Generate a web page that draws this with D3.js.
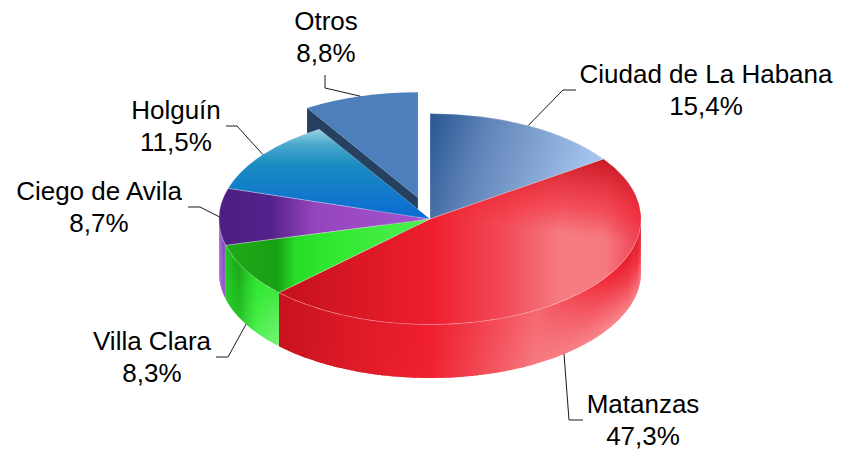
<!DOCTYPE html>
<html>
<head>
<meta charset="utf-8">
<script src="https://cdn.jsdelivr.net/npm/d3@7"></script>
<style>
  body { margin: 0; background: #fff; }
  svg { display: block; }
  text { font-family: "Liberation Sans", Arial, sans-serif; font-size: 26px; fill: #000; }
</style>
</head>
<body>
<svg id="chart" width="843" height="453"></svg>
<script>
// data
const categories = ['Ciudad de La Habana', 'Matanzas', 'Villa Clara', 'Ciego de Avila', 'Holguín', 'Otros'];
const values = [15.4, 47.3, 8.3, 8.7, 11.5, 8.8];
const percentLabels = ['15,4%', '47,3%', '8,3%', '8,7%', '11,5%', '8,8%'];

// layout
const cx = 430, cy = 219, rx = 211, ry = 105.5, depth = 53.5;
const explodeIndex = 5, explode = 0.21;
const deg = Math.PI / 180;

// label centres (x, first baseline) and leader elbows / ends
const labelPos = [[706, 83], [643, 413], [152, 350], [99, 200], [176, 119], [326, 30]];
const leaderPts = [
  [[563, 90], [576, 90]],
  [[569, 420], [583, 420]],
  [[228, 357], [216, 357]],
  [[200, 207], [188, 207]],
  [[237, 126], [226, 126]],
  [[325, 88], [325, 75]]
];

const svg = d3.select('#chart');
const defs = svg.append('defs');

const arcs = d3.pie().sort(null).value(d => d)(values);

function offsetOf(i) {
  if (i !== explodeIndex) return [0, 0];
  const m = (arcs[i].startAngle + arcs[i].endAngle) / 2;
  return [rx * explode * Math.sin(m), -ry * explode * Math.cos(m)];
}
function proj(a, r, off, dz) {
  return [cx + off[0] + rx * r * Math.sin(a), cy + off[1] - ry * r * Math.cos(a) + (dz || 0)];
}
const pt = p => `${p[0].toFixed(2)},${p[1].toFixed(2)}`;

function topPath(d, off) {
  const c = proj(0, 0, off), p0 = proj(d.startAngle, 1, off), p1 = proj(d.endAngle, 1, off);
  const large = d.endAngle - d.startAngle > Math.PI ? 1 : 0;
  return `M${pt(c)}L${pt(p0)}A${rx},${ry} 0 ${large} 1 ${pt(p1)}Z`;
}

function linGrad(id, x1, y1, x2, y2, stops) {
  const g = defs.append('linearGradient').attr('id', id)
    .attr('gradientUnits', 'userSpaceOnUse')
    .attr('x1', x1).attr('y1', y1).attr('x2', x2).attr('y2', y2);
  stops.forEach(s => g.append('stop').attr('offset', s[0]).attr('stop-color', s[1])
    .attr('stop-opacity', s[2] === undefined ? 1 : s[2]));
  return `url(#${id})`;
}

// top face fills
const topFills = [
  linGrad('t0', 430, 130, 585, 178, [[0, '#2c5a95'], [0.35, '#6386ba'], [1, '#a3c3ec']]),
  linGrad('t1', 280, 0, 641, 0, [[0, '#c5111d'], [0.42, '#ee1e2e'], [0.62, '#f24a56'], [0.78, '#f67c82'], [0.9, '#f57a80'], [1, '#f04050']]),
  linGrad('t2', 226, 0, 430, 0, [[0, '#20aa1a'], [0.25, '#17a011'], [0.34, '#28dc28'], [0.5, '#2ee82e'], [1, '#52f052']]),
  linGrad('t3', 219, 0, 430, 0, [[0, '#4c1f80'], [0.24, '#53218b'], [0.45, '#9444bc'], [1, '#a654d2']]),
  linGrad('t4', 0, 126, 0, 218, [[0, '#acdce8'], [0.2, '#4aa8cc'], [0.42, '#1a8cc0'], [1, '#0a6ad4']]),
  '#4d7fbc'
];
const matanzasGlow = linGrad('t1o', 625, 160, 612, 255,
  [[0, '#c3121e', 0.95], [0.55, '#ef1e2e', 0.5], [0.85, '#ef1e2e', 0]]);

// wall colours by angle (degrees): top, middle, bottom of the wall
const wallColours = {
  1: {
    dom: [90, 100, 120, 150, 180, 226],
    top: ['#c2111d', '#dc1828', '#f02030', '#f56870', '#ef1f2f', '#c8121e'],
    mid: ['#f0202f', '#f02a3a', '#f24c58', '#f67078', '#ef1f2f', '#c8121e'],
    bot: ['#f36c74', '#f57c82', '#f88a8e', '#f77a80', '#ef2232', '#c8121e']
  },
  2: {
    dom: [225.7, 235, 245, 255.6],
    top: ['#40e840', '#2ee82e', '#1aa81a', '#22c422'],
    mid: ['#5aee5a', '#3cec3c', '#1eb41e', '#24c824'],
    bot: ['#78f478', '#50f050', '#22c022', '#28cc28']
  },
  3: {
    dom: [255.6, 270],
    top: ['#8448bc', '#a062d2'],
    mid: ['#8a4cc2', '#a466d4'],
    bot: ['#9050c8', '#b070dc']
  }
};

// exploded slice (back) first: its radial face and top
const oi = explodeIndex, od = arcs[oi], oo = offsetOf(oi);
const oc = proj(0, 0, oo), op = proj(od.startAngle, 1, oo);
svg.append('path')
  .attr('d', `M${pt(oc)}L${pt(op)}L${pt([op[0], op[1] + depth])}L${pt([oc[0], oc[1] + depth])}Z`)
  .attr('fill', '#26405f');
svg.append('path').attr('d', topPath(od, oo)).attr('fill', topFills[oi]);

// front walls, in thin overlapping strips
const wallG = svg.append('g').attr('class', 'walls');
arcs.forEach((d, i) => {
  if (i === explodeIndex) return;
  const s = Math.max(d.startAngle, Math.PI / 2), e = Math.min(d.endAngle, 3 * Math.PI / 2);
  if (e <= s) return;
  const wc = wallColours[i];
  const cTop = d3.scaleLinear().domain(wc.dom).range(wc.top).clamp(true);
  const cMid = d3.scaleLinear().domain(wc.dom).range(wc.mid).clamp(true);
  const cBot = d3.scaleLinear().domain(wc.dom).range(wc.bot).clamp(true);
  const n = Math.ceil((e - s) / deg);
  const step = (e - s) / n;
  d3.range(n).forEach(k => {
    const b0 = s + k * step, m = b0 + step / 2;
    const b1 = Math.min(e, b0 + step * 1.6);
    const off = [0, 0];
    const q0 = proj(b0, 1, off), q1 = proj(b1, 1, off), qm = proj(m, 1, off);
    const fill = linGrad(`w${i}_${k}`, qm[0], qm[1], qm[0], qm[1] + depth, [
      [0, cTop(m / deg)], [0.45, cMid(m / deg)], [1, cBot(m / deg)]
    ]);
    wallG.append('path')
      .attr('d', `M${pt(q0)}A${rx},${ry} 0 0 1 ${pt(q1)}L${pt([q1[0], q1[1] + depth])}A${rx},${ry} 0 0 0 ${pt([q0[0], q0[1] + depth])}Z`)
      .attr('fill', fill);
  });
});

// top faces
arcs.forEach((d, i) => {
  if (i === explodeIndex) return;
  svg.append('path').attr('d', topPath(d, [0, 0]))
    .attr('fill', topFills[i])
    .attr('stroke', 'rgba(255,255,255,0.45)')
    .attr('stroke-width', 0.6);
  if (i === 1) svg.append('path').attr('d', topPath(d, [0, 0])).attr('fill', matanzasGlow);
});

// leader lines
arcs.forEach((d, i) => {
  const m = (d.startAngle + d.endAngle) / 2;
  const front = m > Math.PI / 2 && m < 3 * Math.PI / 2 && i !== explodeIndex;
  const start = proj(m, 1, offsetOf(i), front ? depth : 0);
  svg.append('path')
    .attr('d', `M${pt(start)}L${pt(leaderPts[i][0])}L${pt(leaderPts[i][1])}`)
    .attr('fill', 'none')
    .attr('stroke', '#1a1a1a')
    .attr('stroke-width', 1);
});

// labels
arcs.forEach((d, i) => {
  const t = svg.append('text').attr('text-anchor', 'middle');
  t.append('tspan').attr('x', labelPos[i][0]).attr('y', labelPos[i][1]).text(categories[i]);
  t.append('tspan').attr('x', labelPos[i][0]).attr('y', labelPos[i][1] + 32).text(percentLabels[i]);
});
</script>
</body>
</html>
